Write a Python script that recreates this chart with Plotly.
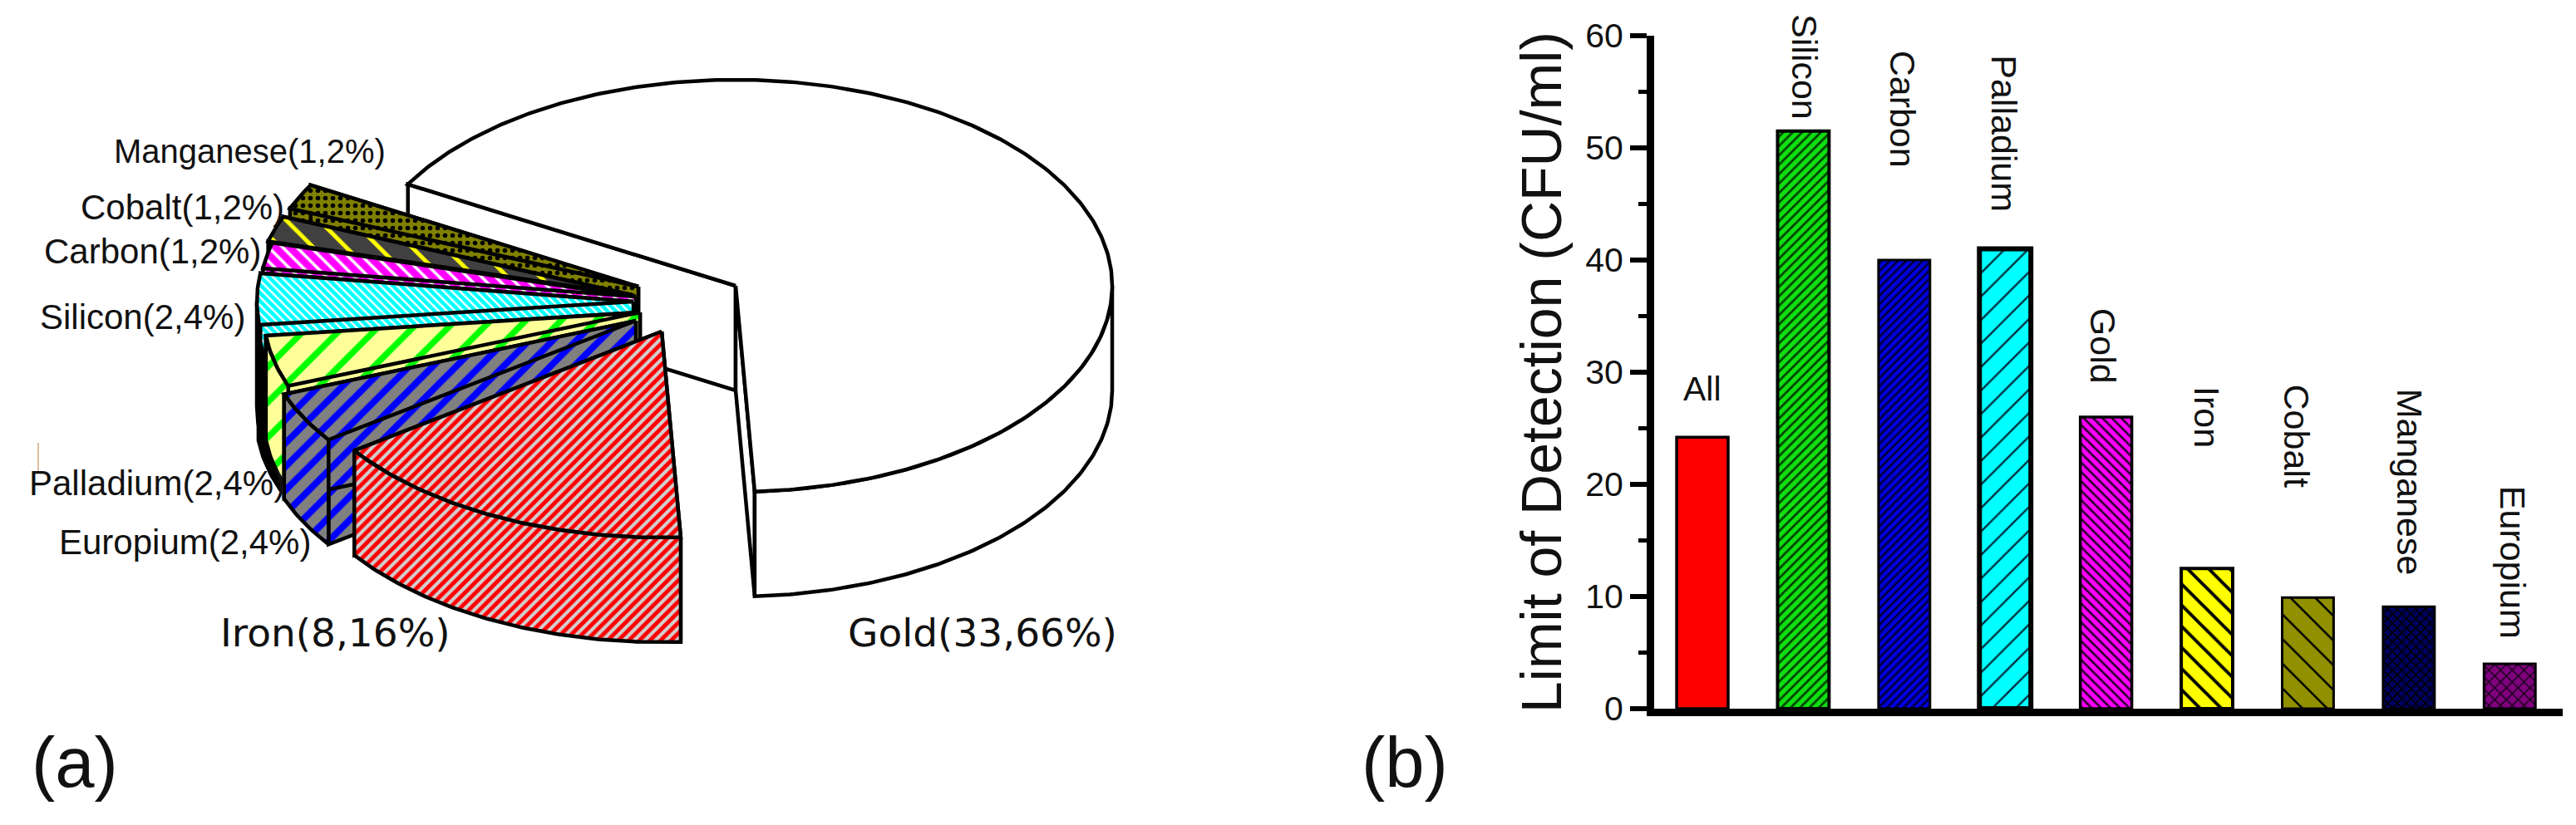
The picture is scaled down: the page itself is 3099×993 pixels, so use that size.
import numpy as np
import plotly.graph_objects as go

# ---- data ----
pie_labels = ["Gold", "Iron", "Europium", "Palladium", "Silicon", "Carbon", "Cobalt", "Manganese"]
pie_counts = [33, 8, 2, 2, 2, 1, 1, 1]
bar_labels = ["All", "Silicon", "Carbon", "Palladium", "Gold", "Iron", "Cobalt", "Manganese", "Europium"]
bar_values = [24.2, 51.5, 40, 41, 26, 12.5, 9.9, 9.1, 4]
y_ticks = [0, 10, 20, 30, 40, 50, 60]

# ---- pie drawing settings (pixel-scaled axes) ----
CX, CY, RX, RY, DEPTH = 885, 344, 453, 248, 126
START = 209.5
OFFSETS = {"Gold": (0, 0), "Iron": (-89, 55), "Europium": (-120, 42), "Palladium": (-115, 32),
           "Silicon": (-123, 19), "Carbon": (-120, 13), "Cobalt": (-125, 11), "Manganese": (-117, 1)}
PATTERNS = {
    "Gold": None,
    "Iron": dict(shape="/", bgcolor="#d0d0d0", fgcolor="#ff0000", size=9, solidity=0.55),
    "Europium": dict(shape="/", bgcolor="#808080", fgcolor="#0000ff", size=20, solidity=0.4),
    "Palladium": dict(shape="/", bgcolor="#ffff99", fgcolor="#00ff00", size=30, solidity=0.25),
    "Silicon": dict(shape="\\", bgcolor="#ffffff", fgcolor="#00ffff", size=7, solidity=0.65),
    "Carbon": dict(shape="\\", bgcolor="#ffffff", fgcolor="#ff00ff", size=12, solidity=0.7),
    "Cobalt": dict(shape="\\", bgcolor="#404040", fgcolor="#ffff00", size=28, solidity=0.18),
    "Manganese": dict(shape=".", bgcolor="#808000", fgcolor="#000000", size=9, solidity=0.3),
}
DARK_WALLS = {"Silicon"}
RIM_SHADOW = {"Palladium": 9}
# colour, hatch shape, hatch colour, hatch size, hatch solidity, outline width
BAR_STYLES = [
    ("#ff0000", "", "#000000", 10, 0.3, 3.5),
    ("#10e010", "/", "#004000", 8, 0.35, 4),
    ("#0000e0", "/", "#000040", 7, 0.4, 3),
    ("#00ffff", "/", "#003040", 20, 0.12, 6),
    ("#ff00ff", "\\", "#300030", 8, 0.35, 3.5),
    ("#ffff00", "\\", "#000000", 18, 0.22, 4),
    ("#909000", "\\", "#000000", 21, 0.12, 3),
    ("#000060", "x", "#000000", 8, 0.35, 3),
    ("#800080", "x", "#200020", 10, 0.3, 3),
]
LABEL_TOPS = [None, 15, 59, 64, 369, 463, 461, 466, 583]
LABEL_XOFF = [0, 1, -1, -1, -3, 0, -13, 2, 4]
PIE_TEXT = [
    ("Manganese(1,2%)", 135, 182, 40, "Liberation Sans"),
    ("Cobalt(1,2%)", 95, 249, 42, "Liberation Sans"),
    ("Carbon(1,2%)", 51, 302, 42, "Liberation Sans"),
    ("Silicon(2,4%)", 46, 381, 42, "Liberation Sans"),
    ("Palladium(2,4%)", 33, 581, 42, "Liberation Sans"),
    ("Europium(2,4%)", 69, 652, 42, "Liberation Sans"),
    ("Iron(8,16%)", 263, 761, 47, "DejaVu Sans"),
    ("Gold(33,66%)", 1018, 761, 47, "DejaVu Sans"),
]

W, H = 3099, 993
fig = go.Figure()


def poly(xs, ys, pattern, name, fill="#ffffff"):
    kw = dict(fillcolor=fill)
    if pattern:
        kw = dict(fillcolor=pattern["bgcolor"],
                  fillpattern=dict(pattern, fillmode="replace", fgopacity=1))
    fig.add_trace(go.Scatter(x=list(xs), y=list(ys), mode="lines", fill="toself", name=name,
                             line=dict(color="black", width=4.5), showlegend=False,
                             xaxis="x", yaxis="y", hoverinfo="name", **kw))


total = sum(pie_counts)
spans = [c / total * 360 for c in pie_counts]
starts = START + np.cumsum([0] + spans[:-1])

# painter's order: Gold first, then from the back slices to the front one
order = [0, 7, 6, 5, 4, 3, 2, 1]
for i in order:
    name = pie_labels[i]
    dx, dy = OFFSETS[name]
    cx, cy = CX + dx, CY + dy
    pat = PATTERNS[name]
    deg = np.linspace(starts[i], starts[i] + spans[i], max(12, int(spans[i] * 1.5)))
    # keep the exact silhouette angles so the side wall meets the top edge
    extra = [a for a in (180, 360, 540) if deg[0] < a < deg[-1]]
    deg = np.sort(np.r_[deg, extra])
    th = np.radians(deg)
    ax = cx + RX * np.cos(th)
    ay = cy + RY * np.sin(th)
    # cut walls
    for j in (0, -1):
        poly([cx, ax[j], ax[j], cx, cx], [cy, ay[j], ay[j] + DEPTH, cy + DEPTH, cy], pat, name)
    # outer wall: only the part facing the viewer
    vis = np.sin(th) >= -1e-9
    if vis.sum() > 1:
        wx, wy = ax[vis], ay[vis]
        wall_x = np.r_[wx, wx[::-1], wx[0]]
        wall_y = np.r_[wy, wy[::-1] + DEPTH, wy[0]]
        if name in RIM_SHADOW:
            poly(wall_x - RIM_SHADOW[name], wall_y, None, name, fill="#000000")
        if name in DARK_WALLS:
            poly(wall_x, wall_y, None, name, fill="#000000")
        else:
            poly(wall_x, wall_y, pat, name)
    # top face
    poly(np.r_[cx, ax, cx], np.r_[cy, ay, cy], pat, name)

for text, x, y, size, font in PIE_TEXT:
    fig.add_annotation(x=x, y=y, xref="x", yref="y", text=text, showarrow=False, xanchor="left",
                       yanchor="middle", font=dict(size=size, family=font, color="#111111"))

# ---- bar chart ----
BX0, BX1, BY0, BY1 = 1990, 3083, 43, 853
for i, (lab, val, st) in enumerate(zip(bar_labels, bar_values, BAR_STYLES)):
    color, shape, fg, psize, solid, lw = st
    fig.add_trace(go.Bar(
        x=[i], y=[val], width=0.51, name=lab, xaxis="x2", yaxis="y2", showlegend=False,
        marker=dict(color=color, line=dict(color="black", width=lw),
                    pattern=dict(shape=shape, fgcolor=fg, bgcolor=color, size=psize, solidity=solid,
                                 fillmode="replace", fgopacity=1)),
    ))

fig.update_layout(
    width=W, height=H, margin=dict(l=0, r=0, t=0, b=0, autoexpand=False),
    paper_bgcolor="white", plot_bgcolor="white", autosize=False, barmode="overlay",
    xaxis=dict(domain=[0, 1550 / W], range=[0, 1550], visible=False),
    yaxis=dict(domain=[0, 1], range=[H, 0], visible=False),
    xaxis2=dict(domain=[BX0 / W, BX1 / W], range=[-0.478, 8.525], anchor="y2", showticklabels=False,
                ticks="", showgrid=False, zeroline=False, showline=True, linecolor="black", linewidth=9),
    yaxis2=dict(domain=[1 - BY1 / H, 1 - BY0 / H], range=[0, 60], anchor="x2", tickvals=y_ticks,
                ticks="outside", ticklen=20, tickwidth=6, tickcolor="black", showgrid=False, zeroline=False,
                showline=True, linecolor="black", linewidth=9,
                tickfont=dict(size=41, family="Liberation Sans", color="#111111"),
                minor=dict(dtick=5, ticks="outside", ticklen=10, tickwidth=5, tickcolor="black", showgrid=False),
                title=dict(text="Limit of Detection (CFU/ml)", standoff=10,
                           font=dict(size=68, family="Liberation Sans", color="#111111"))),
)

# bar name labels
for i, (lab, top, xo) in enumerate(zip(bar_labels, LABEL_TOPS, LABEL_XOFF)):
    if top is None:
        fig.add_annotation(x=i, y=1 - 443 / H, xref="x2", yref="paper", text=lab, showarrow=False,
                           yanchor="top", font=dict(size=41, family="Liberation Sans", color="#111111"))
    else:
        fig.add_annotation(x=i + xo / 121.4, y=1 - top / H, xref="x2", yref="paper", text=lab, showarrow=False,
                           textangle=90, yanchor="top", xanchor="center",
                           font=dict(size=43, family="Liberation Sans", color="#111111"))

# panel letters
fig.add_annotation(x=36 / W, y=1 - 917 / H, xref="paper", yref="paper", text="(a)", showarrow=False,
                   xanchor="left", yanchor="middle", font=dict(size=85, family="Liberation Sans", color="#111111"))
fig.add_annotation(x=1636 / W, y=1 - 917 / H, xref="paper", yref="paper", text="(b)", showarrow=False,
                   xanchor="left", yanchor="middle", font=dict(size=85, family="Liberation Sans", color="#111111"))
# faint scanning mark left of the Palladium label
fig.add_shape(type="line", xref="x", yref="y", x0=46, x1=46, y0=533, y1=568, line=dict(color="#e0c0a0", width=2))

fig.write_html("out.html", config=dict(displayModeBar=False),
               post_script="document.body.style.margin='0';document.body.style.overflow='hidden';")
